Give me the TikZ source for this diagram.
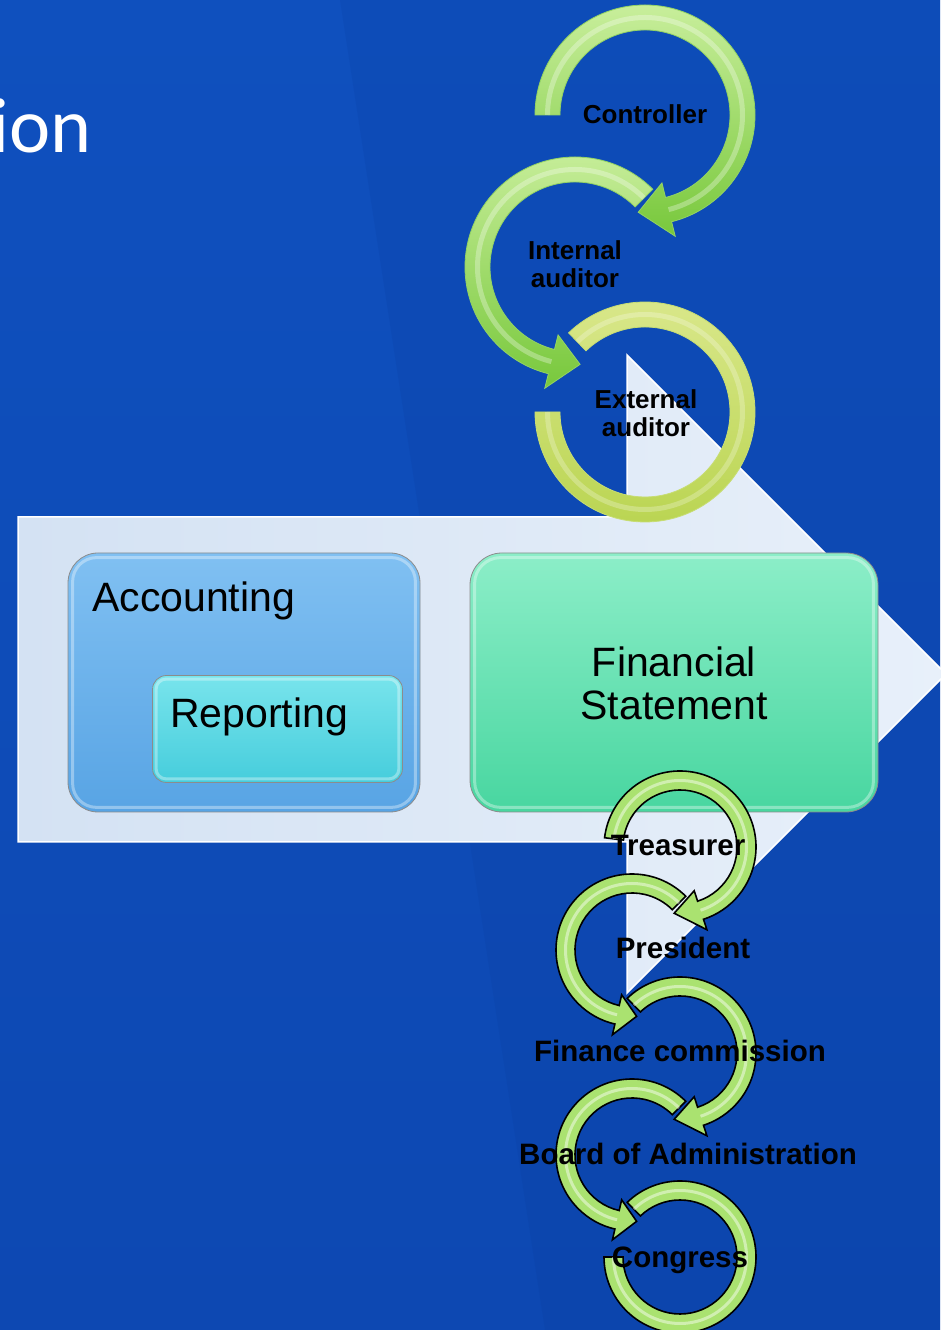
\documentclass[tikz,border=0pt]{standalone}
\usepackage{fontspec}
\setmainfont{Liberation Sans}
\newfontfamily\titlefont{Carlito}

\definecolor{bgtop}{RGB}{15,80,190}
\definecolor{bgbot}{RGB}{13,72,178}
\definecolor{bgdark}{RGB}{8,55,150}
\definecolor{arrowl}{RGB}{212,226,243}
\definecolor{arrowr}{RGB}{232,240,250}
\definecolor{acctop}{RGB}{128,192,242}
\definecolor{accbot}{RGB}{88,164,228}
\definecolor{reptop}{RGB}{120,228,236}
\definecolor{repbot}{RGB}{70,205,220}
\definecolor{fintop}{RGB}{140,238,200}
\definecolor{finbot}{RGB}{72,214,160}
\definecolor{ringtop}{RGB}{200,238,155}
\definecolor{ringbot}{RGB}{120,200,60}
\definecolor{exttop}{RGB}{218,232,140}
\definecolor{extbot}{RGB}{185,212,80}
\definecolor{lowgreen}{RGB}{170,226,112}

% #1 style, #2 centre, #3 start, #4 end of ring, #5 tip, #6 inner r, #7 outer r, #8 head overhang
\newcommand{\ringarrow}[8]{%
  \begin{scope}[shift={#2}]
    \path[#1] (#3:#7pt) arc[start angle=#3, end angle=#4, radius=#7pt]
      -- (#4:{#7pt+#8pt}) -- (#5:{(#6pt+#7pt)/2}) -- (#4:{#6pt-#8pt})
      -- (#4:#6pt) arc[start angle=#4, end angle=#3, radius=#6pt] -- cycle;
    \draw[#1 shine] (#3:{(#6pt+#7pt)/2}) arc[start angle=#3, end angle=#4, radius={(#6pt+#7pt)/2}];
  \end{scope}}
% #1 style, #2 centre, #3 start, #4 end, #5 inner r, #6 outer r
\newcommand{\ringopen}[6]{%
  \begin{scope}[shift={#2}]
    \path[#1] (#3:#6pt) arc[start angle=#3, end angle=#4, radius=#6pt]
      -- (#4:#5pt) arc[start angle=#4, end angle=#3, radius=#5pt] -- cycle;
    \draw[#1 shine] (#3:{(#5pt+#6pt)/2}) arc[start angle=#3, end angle=#4, radius={(#5pt+#6pt)/2}];
  \end{scope}}

\begin{document}
\begin{tikzpicture}[x=1pt,y=1pt,
    bigarrow/.style={draw=white, line width=1.5pt, left color=arrowl, right color=arrowr},
    box/.style={rounded corners=#1, draw=black!45, line width=.8pt, inner sep=0pt},
    bevel/.style={draw=white, opacity=.35, line width=3pt, rounded corners=#1},
    boxtext/.style={font=\fontsize{41}{43}\selectfont, inner sep=0pt},
    toplabel/.style={font=\bfseries\fontsize{26}{28}\selectfont, align=center, inner sep=0pt},
    lowlabel/.style={font=\bfseries\fontsize{29.5}{31}\selectfont, inner sep=0pt, anchor=base},
    topring/.style={top color=ringtop, bottom color=ringbot, draw=ringbot!80!white, line width=.8pt},
    topring shine/.style={draw=white, opacity=.3, line width=5pt},
    extring/.style={top color=exttop, bottom color=extbot, draw=extbot!80!white, line width=.8pt},
    extring shine/.style={draw=white, opacity=.25, line width=5pt},
    lowring/.style={fill=lowgreen, draw=black, line width=1.6pt},
    lowring shine/.style={draw=white, opacity=.45, line width=3pt}]
  \useasboundingbox (0,0) rectangle (940,1330);
  \fill[top color=bgtop, bottom color=bgbot] (0,0) rectangle (940,1330);
  \fill[bgdark, opacity=.15] (340,1330) -- (940,1330) -- (940,0) -- (545,0) -- cycle;

  \path[bigarrow] (18,813) -- (627,813) -- (627,975) -- (946,656) -- (627,337)
    -- (627,488) -- (18,488) -- cycle;

  \node[box=30pt, minimum width=352pt, minimum height=259pt, top color=acctop, bottom color=accbot] (acc) at (244,647.5) {};
  \draw[bevel=24pt] ([shift={(5,-5)}]acc.north west) rectangle ([shift={(-5,5)}]acc.south east);
  \node[box=14pt, minimum width=250pt, minimum height=107pt, top color=reptop, bottom color=repbot] (rep) at (277.5,601) {};
  \draw[bevel=10pt] ([shift={(4,-4)}]rep.north west) rectangle ([shift={(-4,4)}]rep.south east);
  \node[box=32pt, minimum width=408pt, minimum height=259pt, top color=fintop, bottom color=finbot] (fin) at (674,647.5) {};
  \draw[bevel=26pt] ([shift={(5,-5)}]fin.north west) rectangle ([shift={(-5,5)}]fin.south east);

  \node[boxtext, anchor=base west] (acc_t) at (92,718) {Accounting};
  \node[boxtext, anchor=base] (rep_t) at (259,602) {Reporting};
  \node[boxtext, align=center] (fin_t) at (674,646.5) {Financial\\Statement};

  \coordinate (r_ext) at (645,918);
  \coordinate (r_int) at (575,1063);
  \coordinate (r_ctl) at (645,1215);
  \ringopen{extring}{(r_ext)}{134}{-180}{85}{110}
  \ringarrow{topring}{(r_int)}{45}{256}{273}{85}{110}{15}
  \ringarrow{topring}{(r_ctl)}{180}{-76}{-94}{85}{110}{15}

  \coordinate (r_con) at (680,73);
  \coordinate (r_brd) at (632,175);
  \coordinate (r_fin) at (680,277);
  \coordinate (r_pre) at (632,380);
  \coordinate (r_tre) at (680,483);
  \ringopen{lowring}{(r_con)}{134}{-180}{57}{76}
  \ringarrow{lowring}{(r_brd)}{45}{257}{274}{57}{76}{11}
  \ringarrow{lowring}{(r_fin)}{134}{-72}{-95}{57}{76}{11}
  \ringarrow{lowring}{(r_pre)}{45}{257}{274}{57}{76}{11}
  \ringarrow{lowring}{(r_tre)}{173}{-72}{-95}{57}{76}{11}

  \node[toplabel, anchor=base] (ctl) at (645,1206) {Controller};
  \node[toplabel] (int) at (575,1065.5) {Internal\\auditor};
  \node[toplabel] (ext) at (646,916.5) {External\\auditor};

  \node[lowlabel] (tre) at (678,474.5) {Treasurer};
  \node[lowlabel] (pre) at (683,371.5) {President};
  \node[lowlabel] (fco) at (680,268.5) {Finance commission};
  \node[lowlabel] (boa) at (688,165.5) {Board of Administration};
  \node[lowlabel] (con) at (680,62.5) {Congress};

  \node[font=\titlefont\fontsize{78}{80}\selectfont, text=white, anchor=base east, inner sep=0pt] (title) at (92,1177) {ion};
\end{tikzpicture}
\end{document}
